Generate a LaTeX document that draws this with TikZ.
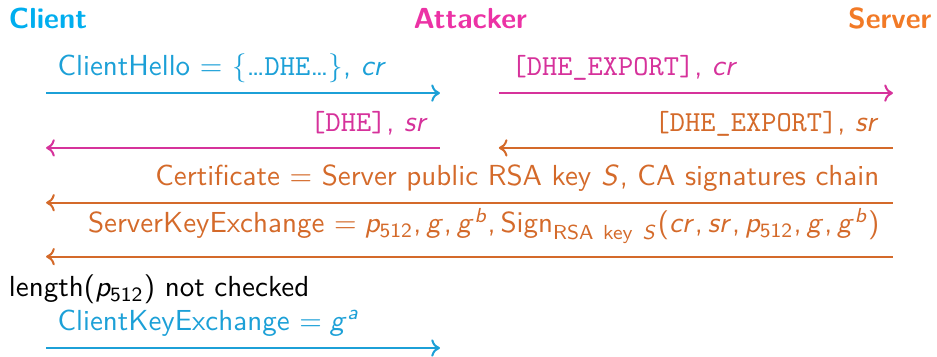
\documentclass[tikz,border=0pt]{standalone}
\usetikzlibrary{arrows.meta}

\DeclareMathVersion{sans}
\SetSymbolFont{operators}{sans}{OT1}{cmss}{m}{n}
\SetSymbolFont{letters}{sans}{OT1}{cmss}{m}{sl}
\SetMathAlphabet{\mathrm}{sans}{OT1}{cmss}{m}{n}
\DeclareMathSymbol{,}{\mathpunct}{operators}{"2C}

\definecolor{clienthead}{RGB}{0,174,239}
\definecolor{attackhead}{RGB}{236,50,165}
\definecolor{serverhead}{RGB}{242,122,38}
\definecolor{clientmsg}{RGB}{28,160,215}
\definecolor{attackmsg}{RGB}{214,50,155}
\definecolor{servermsg}{RGB}{212,106,42}

\tikzset{
	party/.style={font=\sffamily\bfseries, inner sep=0pt},
	msglabel/.style={font=\sffamily\mathversion{sans}, inner sep=0pt},
	msgline/.style={line width=0.7pt, -{To[length=3pt,width=6pt]}},
}

\begin{document}
\begin{tikzpicture}[x=1em,y=1em]
			\useasboundingbox (0,0) rectangle (32.31,-12.28);
			% parties
			\node[party, text=clienthead, anchor=base west] (client) at (0.29,-1.0) {Client};
			\node[party, text=attackhead, anchor=base west] (attacker) at (14.24,-1.0) {Attacker};
			\node[party, text=serverhead, anchor=base east] (server) at (32.14,-1.0) {Server};
			% arrow ends
			\coordinate (c1) at (1.59,-3.21);
			\coordinate (a1) at (15.17,-3.21);
			\coordinate (b1) at (17.2,-3.21);
			\coordinate (s1) at (30.79,-3.21);
			\coordinate (c2) at (1.59,-5.1);
			\coordinate (a2) at (15.17,-5.1);
			\coordinate (b2) at (17.2,-5.1);
			\coordinate (s2) at (30.79,-5.1);
			\coordinate (c3) at (1.59,-6.99);
			\coordinate (s3) at (30.79,-6.99);
			\coordinate (c4) at (1.59,-8.85);
			\coordinate (s4) at (30.79,-8.85);
			\coordinate (c5) at (1.59,-12.0);
			\coordinate (a5) at (15.17,-12.0);
			% messages
			\node[msglabel, text=clientmsg, anchor=base west] (hello) at (1.97,-2.62)
				{ClientHello $=$ $\{$\ldots\texttt{DHE}\ldots$\}$, $cr$};
			\draw[msgline, clientmsg] (c1) -- (a1);
			\node[msglabel, text=attackmsg, anchor=base west] (helloexp) at (17.62,-2.62)
				{\texttt{[DHE\char`\_EXPORT]}, $cr$};
			\draw[msgline, attackmsg] (b1) -- (s1);
			\node[msglabel, text=servermsg, anchor=base east] (shelloexp) at (30.34,-4.55)
				{\texttt{[DHE\char`\_EXPORT]}, $sr$};
			\draw[msgline, servermsg] (s2) -- (b2);
			\node[msglabel, text=attackmsg, anchor=base east] (shello) at (14.79,-4.55)
				{\texttt{[DHE]}, $sr$};
			\draw[msgline, attackmsg] (a2) -- (c2);
			\node[msglabel, text=servermsg, anchor=base east] (cert) at (30.34,-6.41)
				{Certificate $=$ Server public RSA key $S$, CA signatures chain};
			\draw[msgline, servermsg] (s3) -- (c3);
			\node[msglabel, text=servermsg, anchor=base east] (ske) at (30.34,-8.03)
				{ServerKeyExchange $= p_{512}, g, g^b, \mathrm{Sign}_{\mathrm{RSA~key}~S}(cr, sr, p_{512}, g, g^b)$};
			\draw[msgline, servermsg] (s4) -- (c4);
			\node[msglabel, anchor=base west] (check) at (0.29,-10.24)
				{length($p_{512}$) not checked};
			\node[msglabel, text=clientmsg, anchor=base west] (cke) at (1.97,-11.38)
				{ClientKeyExchange $= g^a$};
			\draw[msgline, clientmsg] (c5) -- (a5);
		\end{tikzpicture}
\end{document}
